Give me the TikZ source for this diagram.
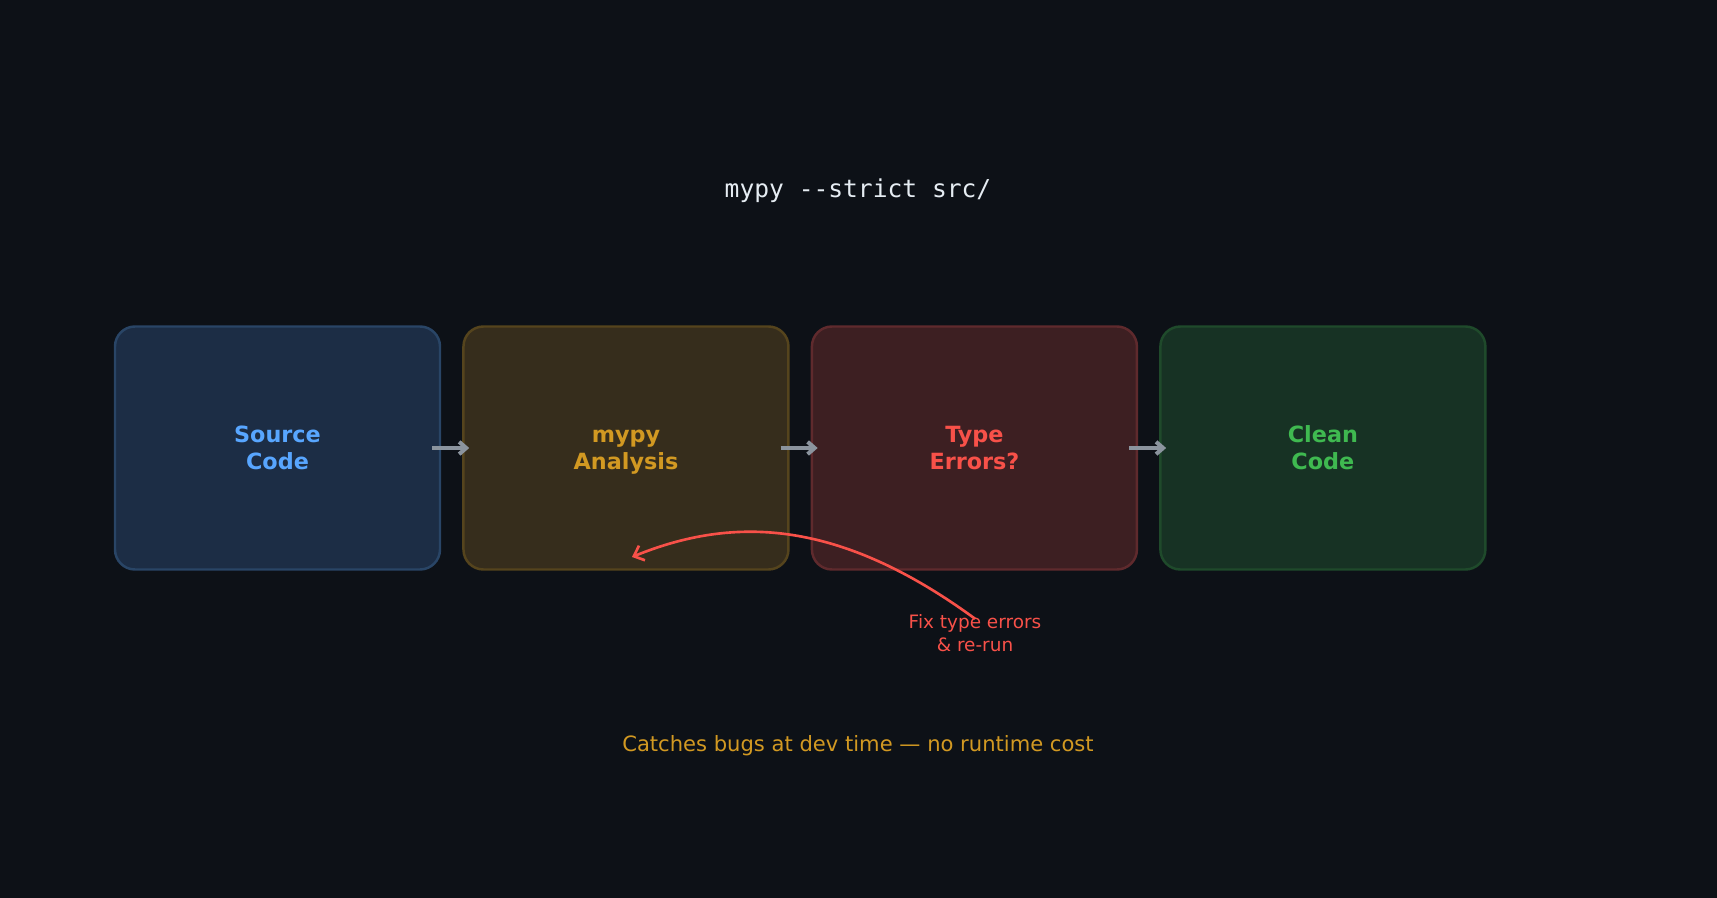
\documentclass[tikz,border=0pt]{standalone}
\usepackage{fontspec}
\setmainfont{DejaVu Sans}
\setmonofont{DejaVu Sans Mono}
\usetikzlibrary{arrows.meta,positioning}
\definecolor{canvas}{HTML}{0D1117}
\definecolor{cmdink}{HTML}{E6EDF3}
\definecolor{arrowgrey}{HTML}{8B949E}
\definecolor{srcink}{HTML}{58A6FF}
\definecolor{srcfill}{HTML}{1C2D45}
\definecolor{srcedge}{HTML}{294566}
\definecolor{mypyink}{HTML}{D29922}
\definecolor{mypyfill}{HTML}{362D1C}
\definecolor{mypyedge}{HTML}{55441D}
\definecolor{errink}{HTML}{F85149}
\definecolor{errfill}{HTML}{3D1F22}
\definecolor{erredge}{HTML}{5F2A2D}
\definecolor{okink}{HTML}{3FB950}
\definecolor{okfill}{HTML}{173224}
\definecolor{okedge}{HTML}{1F4A2B}
\tikzset{
  stage/.style={
    rectangle,rounded corners=0.4cm,line width=1.4pt,
    minimum width=6.5cm,minimum height=4.86cm,align=center,
    font=\bfseries\fontsize{12.7}{15.2}\selectfont,inner sep=0pt,
    text height=26pt,text depth=1.5pt
  },
  srcstage/.style={stage,draw=srcedge,fill=srcfill,text=srcink},
  mypystage/.style={stage,draw=mypyedge,fill=mypyfill,text=mypyink},
  errstage/.style={stage,draw=erredge,fill=errfill,text=errink},
  okstage/.style={stage,draw=okedge,fill=okfill,text=okink},
  flow/.style={-{Straight Barb[length=4pt,width=7pt]},line width=2.3pt,draw=arrowgrey,
    shorten <=-0.18cm,shorten >=-0.14cm},
  rerun/.style={-{Straight Barb[length=5pt,width=9pt]},line width=1.5pt,draw=errink}
}
\begin{document}
\begin{tikzpicture}[node distance=0.42cm]
  \fill[canvas] (0,0) rectangle (34.34,-17.96);
  \node[font=\ttfamily\fontsize{14}{17}\selectfont,text=cmdink] (command) at (17.16,-3.82) {mypy --strict src/};
  \node[srcstage] (source) at (5.55,-8.96) {Source\\Code};
  \node[mypystage,right=0.42cm of source] (analysis) {mypy\\Analysis};
  \node[errstage,right=0.42cm of analysis] (errors) {Type\\Errors?};
  \node[okstage,right=0.42cm of errors] (clean) {Clean\\Code};
  \node[text=errink,align=center,font=\fontsize{10.5}{13}\selectfont] (fixnote) at (19.5,-12.67) {Fix type errors\\\& re-run};
  \node[text=mypyink,font=\fontsize{12}{14}\selectfont] (summary) at (17.16,-14.92) {Catches bugs at dev time — no runtime cost};
  \coordinate (retry) at (12.64,-11.14);
  \draw[flow] (source) -- (analysis);
  \draw[flow] (analysis) -- (errors);
  \draw[flow] (errors) -- (clean);
  \draw[rerun] ([yshift=-0.2cm]fixnote.north) .. controls (16.8,-10.4) and (14.7,-10.3) .. (retry);
\end{tikzpicture}
\end{document}
